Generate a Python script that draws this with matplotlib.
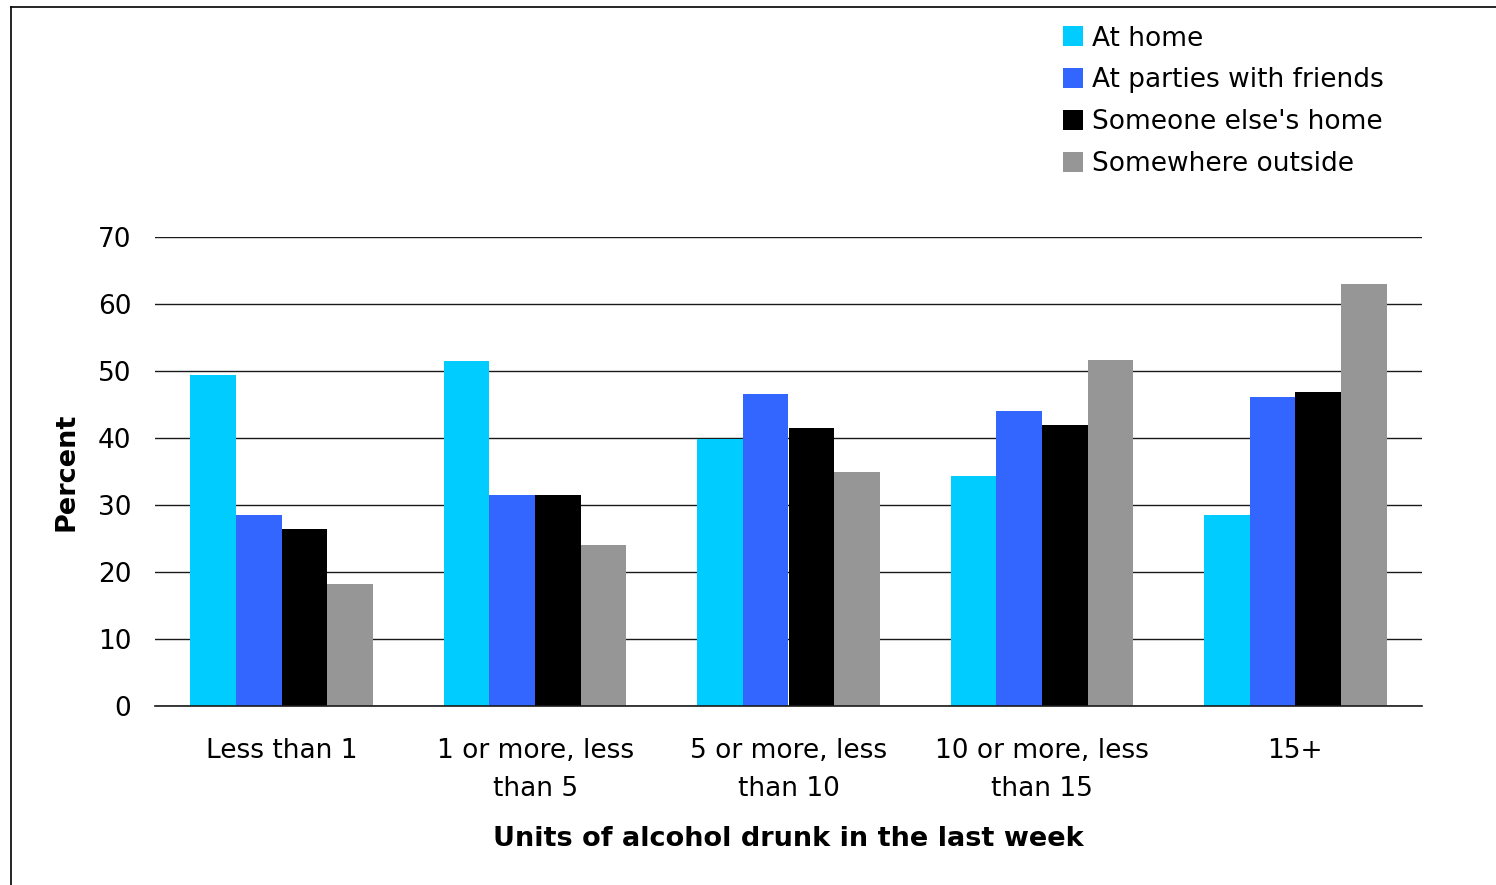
import matplotlib
matplotlib.use("Agg")
import matplotlib.pyplot as plt
import numpy as np
from matplotlib.lines import Line2D
from matplotlib.patches import Patch

categories = ["Less than 1", "1 or more, less\nthan 5", "5 or more, less\nthan 10",
              "10 or more, less\nthan 15", "15+"]
series_names = ["At home", "At parties with friends", "Someone else's home", "Somewhere outside"]
at_home = [49.4, 51.5, 39.9, 34.3, 28.5]
at_parties = [28.5, 31.5, 46.6, 44.0, 46.1]
someone_else = [26.4, 31.5, 41.5, 41.9, 46.9]
outside = [18.2, 24.1, 35.0, 51.6, 63.0]
colors = ["#00CCFF", "#3366FF", "#000000", "#969696"]
y_ticks = [0, 10, 20, 30, 40, 50, 60, 70]

plt.rcParams["font.family"] = ["DejaVu Sans"]

W, H = 1496, 885
fig = plt.figure(figsize=(W / 100, H / 100), dpi=100)
ax = fig.add_axes([155 / W, 1 - 706 / H, (1422 - 155) / W, (706 - 237) / H])

x = np.arange(len(categories))
bw = 0.18
all_series = [at_home, at_parties, someone_else, outside]
for i, (vals, c) in enumerate(zip(all_series, colors)):
    ax.bar(x + (i - 1.5) * bw, vals, width=bw, color=c, zorder=3, linewidth=0)

ax.set_xlim(-0.5, len(categories) - 0.5)
ax.set_ylim(0, 70)
ax.set_yticks(y_ticks)
ax.yaxis.grid(True, color="#1a1a1a", linewidth=1.0, zorder=0)
ax.axhline(0, color="#1a1a1a", linewidth=1.2, zorder=4, clip_on=False)
ax.set_axisbelow(True)
for s in ax.spines.values():
    s.set_visible(False)
ax.tick_params(axis="both", length=0, labelsize=19, colors="#000000")
ax.tick_params(axis="y", pad=17)
ax.tick_params(axis="x", pad=23)
ax.set_xticks(x)
ax.set_xticklabels(categories, linespacing=1.6)

ax.set_ylabel("Percent", fontsize=19.5, fontweight="bold", labelpad=13)
ax.set_xlabel("Units of alcohol drunk in the last week", fontsize=19.5,
              fontweight="bold", labelpad=17)

handles = [Patch(facecolor=c, edgecolor="none") for c in colors]
fig.legend(handles, series_names, loc="upper left",
           bbox_to_anchor=(1052 / W, 1 - 15 / H), frameon=False,
           fontsize=19, handlelength=0.78, handleheight=0.78,
           handletextpad=0.35, labelspacing=0.6, borderaxespad=0)

# outer frame (left and top edges)
fig.add_artist(Line2D([11 / W, 11 / W], [0, 1 - 7 / H], color="#000000", linewidth=1.2,
                      transform=fig.transFigure))
fig.add_artist(Line2D([11 / W, 1], [1 - 7 / H, 1 - 7 / H], color="#000000", linewidth=1.2,
                      transform=fig.transFigure))

fig.savefig("out.png", dpi=100)
